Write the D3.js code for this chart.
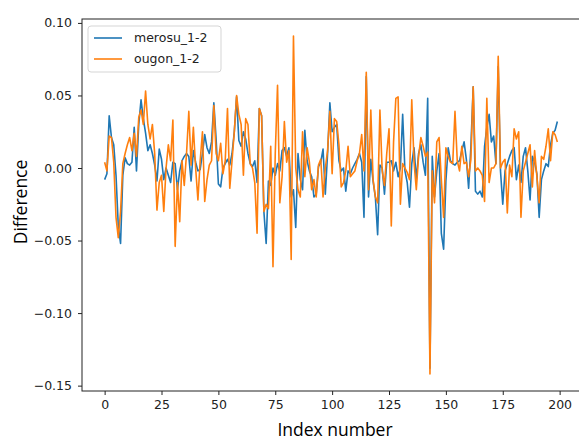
<!DOCTYPE html>
<html>
<head>
<meta charset="utf-8">
<script src="https://cdn.jsdelivr.net/npm/d3@7"></script>
<style>
  body { margin: 0; background: #fff; }
  svg { display: block; }
  .tick text { font-family: "DejaVu Sans", sans-serif; font-size: 12.5px; fill: #222; }
  .axlabel { font-family: "Open Sans", sans-serif; font-size: 17.5px; fill: #000; }
  .legend text { font-family: "DejaVu Sans", sans-serif; font-size: 12.5px; fill: #222; }
</style>
</head>
<body>
<div id="chart"></div>
<script>
// series values, index 0..199
var merosu = [
  -0.008, -0.004, 0.036, 0.021, 0.016, -0.005, -0.040, -0.052, -0.005, 0.007,
  0.003, 0.002, 0.004, 0.028, -0.002, 0.030, 0.047, 0.034, 0.024, 0.012,
  0.016, 0.010, 0.002, -0.009, 0.013, 0.006, -0.008, 0.000, -0.005, -0.010,
  0.004, 0.003, -0.015, -0.002, 0.005, 0.008, 0.010, 0.008, -0.009, 0.012,
  0.004, -0.002, -0.001, 0.010, 0.023, 0.014, 0.010, 0.018, 0.045, 0.020,
  -0.011, -0.013, 0.000, 0.003, 0.006, 0.002, 0.010, 0.025, 0.049, 0.019,
  0.015, 0.025, 0.020, 0.010, 0.003, 0.001, 0.005, -0.010, 0.041, 0.036,
  -0.030, -0.052, -0.009, -0.012, 0.000, -0.005, 0.003, -0.002, 0.012, 0.014,
  0.008, 0.014, -0.020, -0.015, -0.041, 0.010, -0.008, -0.015, 0.026, 0.005,
  -0.002, -0.006, -0.020, -0.018, 0.001, 0.004, 0.013, -0.018, 0.010, 0.045,
  0.025, 0.028, 0.030, 0.005, -0.002, 0.000, -0.016, -0.002, -0.004, 0.000,
  0.003, 0.006, 0.010, 0.004, -0.034, 0.063, -0.020, 0.006, -0.009, -0.020,
  -0.046, 0.002, 0.000, -0.018, 0.004, 0.004, 0.005, -0.002, 0.004, -0.006,
  0.000, 0.037, -0.002, -0.010, -0.027, 0.003, 0.014, -0.008, 0.010, 0.016,
  0.004, -0.005, 0.048, -0.138, 0.008, -0.020, -0.002, 0.010, -0.045, -0.056,
  -0.009, 0.014, 0.005, 0.003, 0.002, 0.004, 0.005, 0.012, 0.018, 0.006,
  -0.014, 0.015, 0.056, -0.016, -0.018, -0.016, -0.020, 0.015, 0.028, 0.037,
  0.018, 0.022, 0.003, 0.070, -0.002, -0.025, -0.002, 0.003, 0.008, 0.012,
  0.014, -0.008, 0.002, -0.010, 0.008, 0.014, -0.002, -0.022, 0.008, 0.004,
  -0.004, -0.034, -0.008, -0.002, 0.003, 0.001, 0.016, 0.024, 0.026, 0.032
];
var ougon = [
  0.004, -0.002, 0.022, 0.021, 0.004, -0.034, -0.048, -0.030, 0.003, 0.010,
  0.016, 0.021, 0.012, 0.024, 0.008, 0.035, 0.040, 0.030, 0.053, 0.030,
  0.020, 0.030, 0.010, -0.029, -0.010, -0.005, -0.030, 0.000, 0.016, 0.005,
  0.033, -0.054, -0.010, -0.037, 0.005, -0.012, 0.010, 0.039, 0.002, 0.028,
  0.000, -0.022, 0.005, 0.025, -0.023, -0.008, 0.002, 0.005, 0.043, 0.010,
  0.005, 0.017, -0.004, 0.005, 0.041, -0.014, 0.005, 0.025, 0.050, 0.037,
  0.030, -0.005, 0.034, 0.030, 0.003, 0.000, -0.010, -0.045, 0.041, 0.036,
  -0.030, -0.025, -0.028, 0.015, -0.068, 0.010, 0.057, -0.024, -0.006, 0.032,
  0.004, 0.012, -0.063, 0.091, 0.000, -0.015, -0.020, 0.025, -0.006, 0.014,
  0.004, -0.015, -0.008, -0.020, 0.002, 0.006, -0.020, 0.000, 0.012, 0.039,
  -0.004, 0.034, 0.032, 0.016, -0.013, -0.010, -0.002, 0.015, -0.006, -0.004,
  -0.002, 0.005, 0.010, 0.023, -0.002, 0.066, -0.015, 0.040, -0.008, -0.020,
  -0.024, 0.040, -0.002, -0.012, 0.010, 0.027, -0.040, 0.018, 0.048, 0.049,
  -0.025, 0.003, 0.000, -0.003, -0.008, 0.047, 0.004, -0.015, 0.008, 0.021,
  0.015, 0.008, 0.011, -0.142, -0.002, -0.024, 0.018, 0.021, -0.008, -0.034,
  0.014, 0.008, 0.004, 0.003, 0.039, 0.005, -0.002, 0.015, 0.003, 0.004,
  -0.006, 0.006, 0.056, -0.002, 0.000, -0.002, -0.005, -0.023, 0.048, -0.010,
  0.000, 0.000, 0.003, 0.077, 0.000, 0.004, 0.006, -0.031, 0.002, -0.006,
  0.027, 0.020, 0.025, -0.034, -0.002, 0.004, 0.010, 0.016, -0.013, 0.012,
  -0.006, -0.024, 0.008, 0.006, 0.015, 0.027, 0.005, 0.025, 0.023, 0.018
];
var seriesNames = ["merosu_1-2", "ougon_1-2"];
var seriesColors = ["#1f77b4", "#ff7f0e"];
var xTicks = [0, 25, 50, 75, 100, 125, 150, 175, 200];
var yTicks = [0.10, 0.05, 0.00, -0.05, -0.10, -0.15];

var margin = {top: 19, right: -1, bottom: 50, left: 82},
    W = 579, H = 441,
    width = W - margin.left - margin.right,
    height = H - margin.top - margin.bottom;

var svg = d3.select("#chart").append("svg")
    .attr("width", W)
    .attr("height", H);

var g = svg.append("g")
    .attr("transform", "translate(" + margin.left + "," + margin.top + ")");

var x = d3.scaleLinear().domain([-9.95, 208.95]).range([0, width]);
var y = d3.scaleLinear().domain([-0.1537, 0.1027]).range([height, 0]);

var fmt = function(d) { return d3.format(".2f")(d).replace("-", "\u2212"); };

// axes
g.append("g").attr("class", "axis")
    .call(d3.axisLeft(y).tickValues(yTicks).tickFormat(fmt).tickSize(4).tickPadding(6));
g.append("g").attr("class", "axis")
    .attr("transform", "translate(0," + height + ")")
    .call(d3.axisBottom(x).tickValues(xTicks).tickFormat(d3.format("d")).tickSize(4).tickPadding(5));
g.selectAll(".axis .domain").remove();
g.selectAll(".axis line").attr("stroke", "#222").attr("stroke-width", 1);

// lines
var line = d3.line()
    .x(function(d, i) { return x(i); })
    .y(function(d) { return y(d); });

[merosu, ougon].forEach(function(s, k) {
    g.append("path")
        .datum(s)
        .attr("fill", "none")
        .attr("stroke", seriesColors[k])
        .attr("stroke-width", 1.6)
        .attr("stroke-linejoin", "round")
        .attr("d", line);
});

// frame
g.append("rect")
    .attr("width", width).attr("height", height)
    .attr("fill", "none").attr("stroke", "#222").attr("stroke-width", 1);

// legend
var legend = g.append("g").attr("class", "legend").attr("transform", "translate(6,7)");
legend.append("rect")
    .attr("width", 133).attr("height", 46)
    .attr("rx", 3)
    .attr("fill", "#fff").attr("fill-opacity", 0.8)
    .attr("stroke", "#d5d5d5");
seriesNames.forEach(function(n, i) {
    var row = legend.append("g").attr("transform", "translate(0," + (12 + i * 21) + ")");
    row.append("line")
        .attr("x1", 6).attr("x2", 34)
        .attr("stroke", seriesColors[i]).attr("stroke-width", 1.6);
    row.append("text")
        .attr("x", 46).attr("dy", "0.35em")
        .text(n);
});

// axis labels
svg.append("text").attr("class", "axlabel")
    .attr("transform", "translate(27,202) rotate(-90)")
    .attr("text-anchor", "middle")
    .text("Difference");
svg.append("text").attr("class", "axlabel")
    .attr("x", 335).attr("y", 436)
    .attr("text-anchor", "middle")
    .text("Index number");
</script>
</body>
</html>
